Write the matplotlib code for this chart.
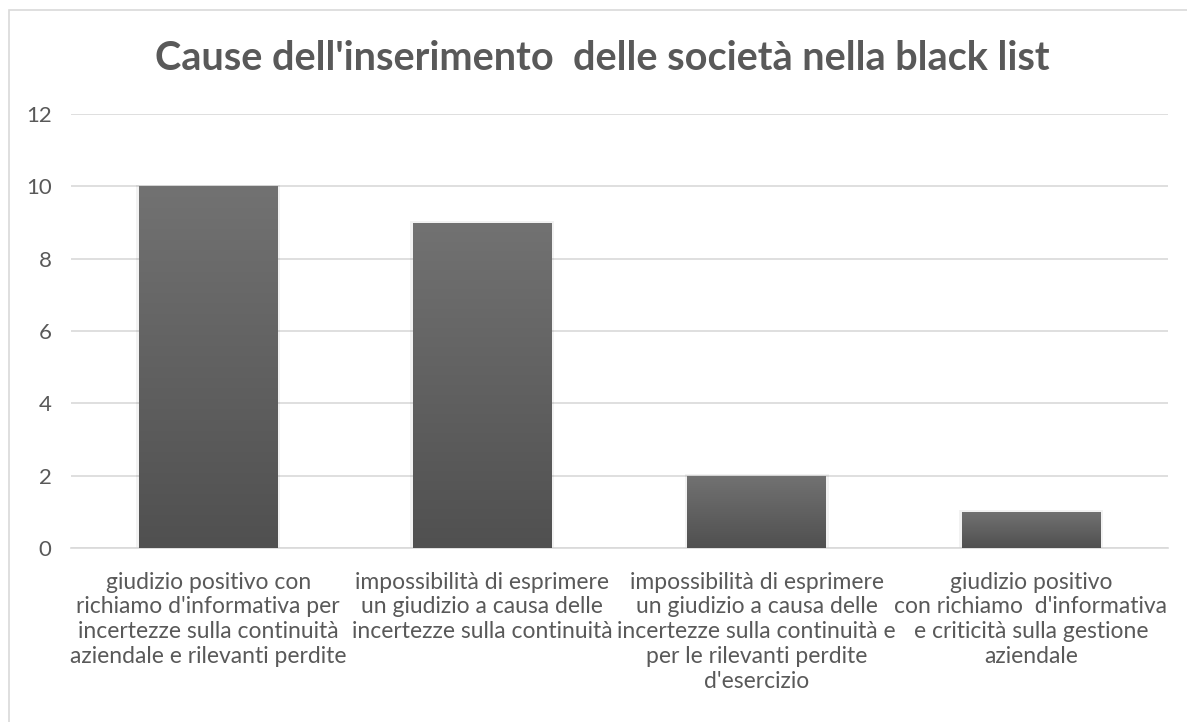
import numpy as np
import matplotlib
matplotlib.use("Agg")
import matplotlib.pyplot as plt
from matplotlib.patches import Rectangle

plt.rcParams['font.family'] = ['Lato', 'DejaVu Sans']

title = "Cause dell'inserimento  delle società nella black list"
categories = [
    "giudizio positivo con\nrichiamo d'informativa per\nincertezze sulla continuità\naziendale e rilevanti perdite",
    "impossibilità di esprimere\nun giudizio a causa delle\nincertezze sulla continuità",
    "impossibilità di esprimere\nun giudizio a causa delle\nincertezze sulla continuità e\nper le rilevanti perdite\nd'esercizio",
    "giudizio positivo\ncon richiamo  d'informativa\ne criticità sulla gestione\naziendale",
]
values = [10, 9, 2, 1]
yticks = [0, 2, 4, 6, 8, 10, 12]

W, H = 1187, 722
fig = plt.figure(figsize=(W / 100, H / 100), dpi=100)
fig.patch.set_facecolor('white')

# outer chart border (Excel style)
fig.add_artist(Rectangle((9 / W, -0.1), 1.2, 1 - 10 / H + 0.1, transform=fig.transFigure,
                         fill=False, edgecolor='#d9d9d9', linewidth=1.2))

ax = fig.add_axes([71 / W, 1 - 548 / H, (1168 - 71) / W, (548 - 114) / H])
ax.set_xlim(-0.5, 3.5)
ax.set_ylim(0, 12)

grad = np.linspace(0, 1, 256).reshape(-1, 1)
cmap = matplotlib.colors.LinearSegmentedColormap.from_list('g', ['#505050', '#727272'])
bw = 0.505
x = np.arange(len(values))
for xi, v in zip(x, values):
    # soft shadow
    sh = Rectangle((xi - bw / 2 - 0.01, 0), bw + 0.02, v + 0.05, facecolor='#000000',
                   alpha=0.05, edgecolor='none', zorder=2)
    ax.add_patch(sh)
    rect = Rectangle((xi - bw / 2, 0), bw, v, facecolor='none', edgecolor='none', zorder=3)
    ax.add_patch(rect)
    im = ax.imshow(grad, cmap=cmap, aspect='auto', origin='lower',
                   extent=(xi - bw / 2, xi + bw / 2, 0, v), zorder=3)
    im.set_clip_path(rect)

ax.set_xlim(-0.5, 3.5)
ax.set_ylim(0, 12)
ax.set_yticks(yticks)
ax.yaxis.grid(True, color='#d9d9d9', linewidth=1.2)
ax.set_axisbelow(True)
for s in ['top', 'right', 'left']:
    ax.spines[s].set_visible(False)
ax.spines['bottom'].set_color('#d9d9d9')
ax.spines['bottom'].set_linewidth(1.2)
ax.tick_params(axis='both', length=0, labelsize=16, colors='#595959')
ax.tick_params(axis='y', pad=14)
ax.tick_params(axis='x', pad=17)
ax.set_xticks(x)
ax.set_xticklabels(categories, linespacing=1.22, fontsize=16.5)

fig.text(602 / W, 1 - 58 / H, title, ha='center', va='center', fontsize=28.5,
         fontweight='bold', color='#595959')

fig.savefig('out.png', dpi=100)
